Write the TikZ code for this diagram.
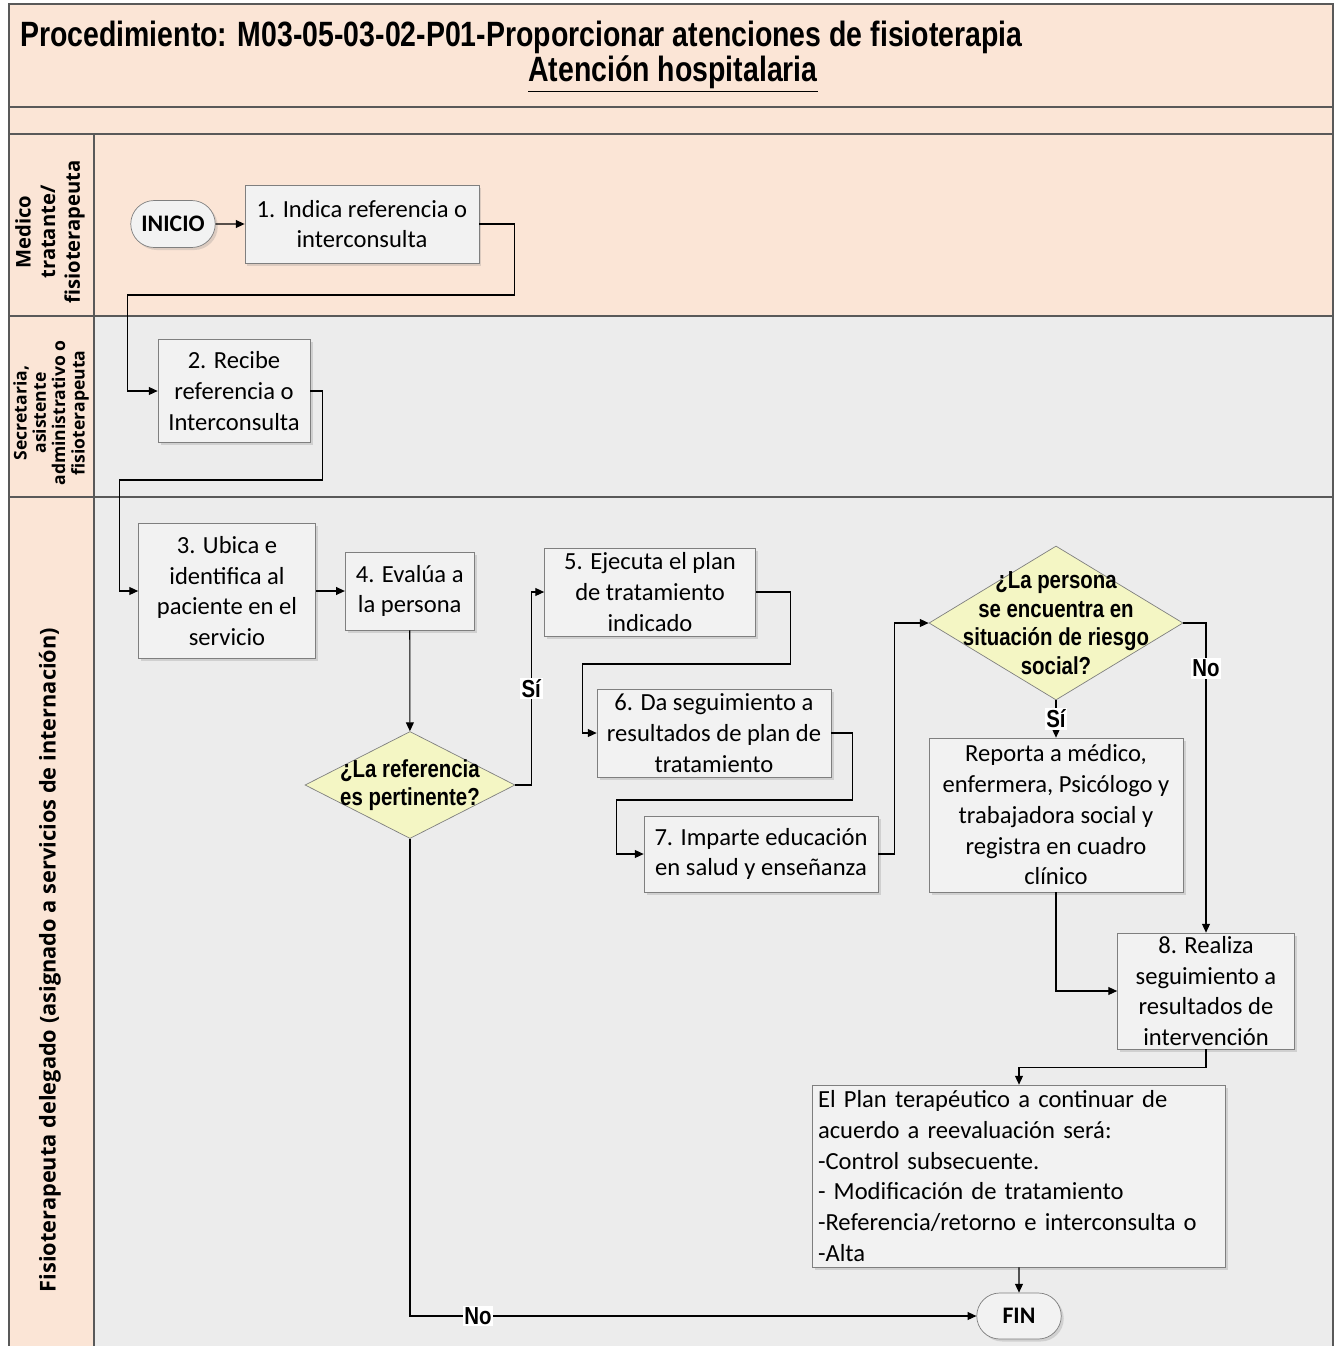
\documentclass[tikz,border=0pt]{standalone}
\usepackage{fontspec}
\setmainfont{Carlito}
\newfontfamily\lanefont{Open Sans}
\newfontfamily\narrowfont[FakeStretch=0.81]{Liberation Sans}
\newfontfamily\decfont[FakeStretch=0.83]{Liberation Sans}
\usetikzlibrary{shapes.geometric, shapes.misc, arrows.meta, positioning, shadows}
\definecolor{peach}{HTML}{FBE5D6}
\definecolor{lanegray}{HTML}{ECECEC}
\definecolor{boxgray}{HTML}{F2F2F2}
\definecolor{edgegray}{HTML}{7F7F7F}
\definecolor{decyellow}{HTML}{F4F6C4}
\tikzset{
    sz/.style 2 args={minimum width=#1*0.02cm, minimum height=#2*0.02cm},
    box/.style={draw=edgegray, fill=boxgray, align=center, inner sep=1pt, font=\fontsize{14}{17.5}\selectfont,
        drop shadow={opacity=0.25, shadow xshift=0.05cm, shadow yshift=-0.05cm}},
    term/.style={box, rounded rectangle, font=\bfseries\fontsize{13.5}{15}\selectfont},
    dec/.style={diamond, draw=edgegray, fill=decyellow, inner sep=0pt},
    dectext/.style={align=center, font=\decfont\bfseries\fontsize{14}{16.2}\selectfont},
    lbl/.style={fill=white, inner sep=1pt, font=\decfont\bfseries\fontsize{14}{15}\selectfont},
    lanelbl/.style={rotate=90, align=center, font=\lanefont\bfseries\fontsize{11.5}{14}\selectfont},
    laneline/.style={draw=black!65, line width=0.6pt},
    arrow/.style={-{Triangle[length=5pt, width=4.5pt]}, black, line width=0.6pt}
}

\begin{document}
\begin{tikzpicture}[x=0.02cm, y=-0.02cm]
    \useasboundingbox (0,0) rectangle (1338,1346);
    % swimlanes
    \fill[peach] (9,4) rectangle (1333,316);
    \fill[lanegray] (94,316) rectangle (1333,1346);
    \fill[peach] (9,316) rectangle (94,1346);
    \draw[laneline] (9,1346) -- (9,4) -- (1333,4) -- (1333,1346);
    \draw[laneline] (9,107) -- (1333,107);
    \draw[laneline] (9,134) -- (1333,134);
    \draw[laneline] (9,316) -- (1333,316);
    \draw[laneline] (9,497) -- (1333,497);
    \draw[laneline] (94,134) -- (94,1346);

    \node[anchor=west, font=\narrowfont\bfseries\fontsize{20}{24}\selectfont] (title) at (14,37)
        {Procedimiento: M03-05-03-02-P01-Proporcionar atenciones de fisioterapia};
    \node[font=\narrowfont\bfseries\fontsize{20}{24}\selectfont] (subtitle) at (673,74) {\underline{Atención hospitalaria}};

    \node[lanelbl] (lane1) at (50,232) {Medico\\tratante/\\fisioterapeuta};
    \node[lanelbl, font=\lanefont\bfseries\fontsize{10}{11}\selectfont] (lane2) at (51,413) {Secretaria,\\asistente\\administrativo o\\fisioterapeuta};
    \node[lanelbl, font=\lanefont\bfseries\fontsize{12.4}{14}\selectfont] (lane3) at (50,960) {Fisioterapeuta delegado (asignado a servicios de internación)};

    % steps
    \node[term, sz={88}{47}] (inicio) at (173,224) {INICIO};
    \node[box, sz={234}{78}, right=0.58cm of inicio] (b1) {1. Indica referencia o\\interconsulta};
    \node[box, sz={152}{103}] (b2) at (234,391) {2. Recibe\\referencia o\\Interconsulta};
    \node[box, sz={177}{135}] (b3) at (227,591) {3. Ubica e\\identifica al\\paciente en el\\servicio};
    \node[box, sz={129}{78}, right=0.58cm of b3] (b4) {4. Evalúa a\\la persona};
    \node[dec, sz={210}{107}, label={[dectext]center:{¿La referencia\\es pertinente?}}] (d1) at (410,785) {};
    \node[box, sz={211}{88}] (b5) at (650,592) {5. Ejecuta el plan\\de tratamiento\\indicado};
    \node[box, sz={234}{88}] (b6) at (714,733) {6. Da seguimiento a\\resultados de plan de\\tratamiento};
    \node[box, sz={234}{76}] (b7) at (761,854) {7. Imparte educación\\en salud y enseñanza};
    \node[dec, sz={254}{154}, label={[dectext]center:{¿La persona\\se encuentra en\\situación de riesgo\\social?}}] (d2) at (1056,623) {};
    \node[box, sz={254}{154}] (rep) at (1056,815) {Reporta a médico,\\enfermera, Psicólogo y\\trabajadora social y\\registra en cuadro\\clínico};
    \node[box, sz={177}{116}] (b8) at (1206,991) {8. Realiza\\seguimiento a\\resultados de\\intervención};
    \node[box, sz={410}{182}, align=left, text width=402*0.02cm, inner xsep=3pt, inner ysep=0pt] (plan) at (1019,1176)
        {El Plan terapéutico a continuar de\\acuerdo a reevaluación será:\\-Control subsecuente.\\- Modificación de tratamiento\\-Referencia/retorno e interconsulta o\\-Alta};
    \node[term, sz={88}{46}] (fin) at (1019,1316) {FIN};

    % flow
    \draw[arrow] (inicio) -- (b1);
    \draw[arrow] (b1.east) -| ++(35,71) -| ([shift={(-30,0)}]b2.west) -- (b2.west);
    \draw[arrow] (b2.east) -| ++(12,89) -| ([shift={(-19,0)}]b3.west) -- (b3.west);
    \draw[arrow] (b3) -- (b4);
    \draw[arrow] (b4) -- (d1);
    \draw[arrow] (d1.east) -| ([shift={(-13,0)}]b5.west) node[lbl, pos=0.75] {Sí} -- (b5.west);
    \draw[arrow] (b5.east) -| ++(35,72) -| ([shift={(-14,0)}]b6.west) -- (b6.west);
    \draw[arrow] (b6.east) -| ++(21,67) -| ([shift={(-27,0)}]b7.west) -- (b7.west);
    \draw[arrow] (b7.east) -| ([shift={(-34,0)}]d2.west) -- (d2.west);
    \draw[arrow] (d2.south) -- (rep.north) node[lbl, midway] {Sí};
    \draw[arrow] (d2.east) -| (b8.north) node[lbl, pos=0.573] {No};
    \draw[arrow] (rep.south) |- (b8.west);
    \draw[arrow] (b8.south) -- ++(0,18) -| (plan.north);
    \draw[arrow] (plan) -- (fin);
    \draw[arrow] (d1.south) |- (fin.west) node[lbl, pos=0.56] {No};
\end{tikzpicture}
\end{document}
